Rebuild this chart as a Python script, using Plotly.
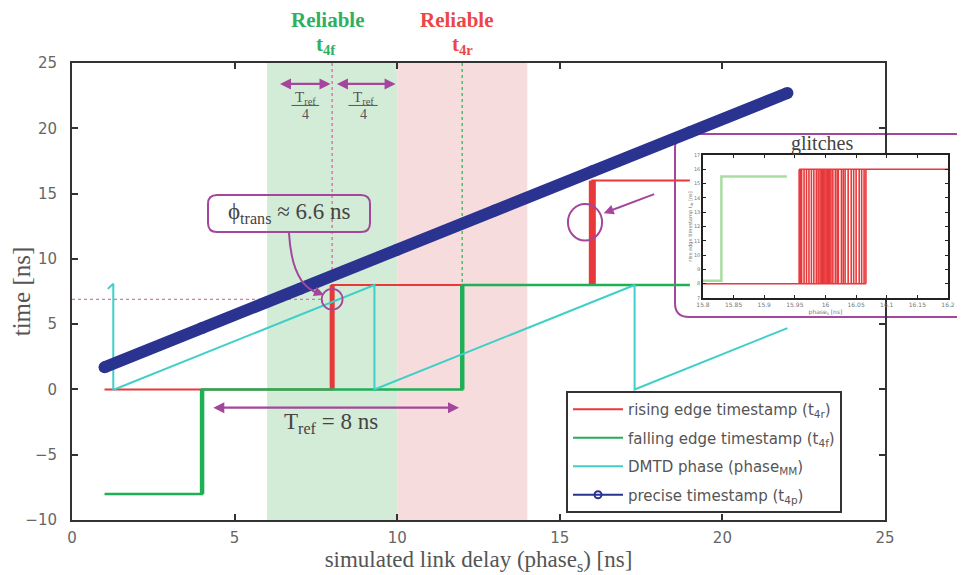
import plotly.graph_objects as go

# ---------------- data ----------------
rising_x = [1, 8, 8, 16, 16, 19.0]
rising_y = [0, 0, 8, 8, 16, 16]
rising_edges_x = [8, 16]
rising_edges_lo = [0, 8]
rising_edges_hi = [8, 16]

falling_x = [1, 4, 4, 12, 12, 19.0]
falling_y = [-8, -8, 0, 0, 8, 8]
falling_edges_x = [4, 12]
falling_edges_lo = [-8, 0]
falling_edges_hi = [0, 8]

dmtd_x = [1.1, 1.27, 1.27, 1.3, 9.3, 9.3, 17.3, 17.3, 22]
dmtd_y = [7.7, 8.1, 0, 0, 8, 0, 8, 0, 4.7]

precise_x = [1, 4, 7, 10, 13, 16, 19, 22]
precise_y = [1.7, 4.7, 7.7, 10.7, 13.7, 16.7, 19.7, 22.7]

# inset (glitches) data
inset_green_x = [15.8, 15.83, 15.83, 15.937]
inset_green_y = [8.2, 8.2, 15.5, 15.5]
inset_red_low_x = [15.8, 16.066]
inset_red_low_y = [8, 8]
inset_red_high_x = [15.957, 16.2]
inset_red_high_y = [16, 16]
glitch_x = [15.957, 15.959, 15.961, 15.965, 15.969, 15.973, 15.977, 15.981, 15.985,
            15.988, 15.991, 15.993, 15.995, 15.997, 15.999, 16.001, 16.003, 16.005,
            16.007, 16.009, 16.012, 16.016, 16.019, 16.021, 16.026, 16.029, 16.032,
            16.037, 16.042, 16.046, 16.050, 16.055, 16.059, 16.063, 16.066]

x_ticks = [0, 5, 10, 15, 20, 25]
y_ticks = [-10, -5, 0, 5, 10, 15, 20, 25]
inset_x_ticks = [15.8, 15.85, 15.9, 15.95, 16, 16.05, 16.1, 16.15, 16.2]
inset_y_ticks = [7, 8, 9, 10, 11, 12, 13, 14, 15, 16, 17]

reliable_f = [6, 10]
reliable_r = [10, 14]
phi_trans = 6.9

# ---------------- style ----------------
OFF = 8                      # page body margin of the browser
W, H = 965 - OFF, 575 - OFF
RED = "#e8383a"
GREEN = "#1fb055"
CYAN = "#3ecfc8"
BLUE = "#2b3390"
PURPLE = "#a4479c"
PINK = "#d77aa8"
GREY = "#555555"
SERIF = "Liberation Serif"
SANS = "DejaVu Sans"

def px(xp):
    return (xp - OFF) / W

def py(yp):
    return 1 - (yp - OFF) / H

fig = go.Figure()

# main traces
fig.add_trace(go.Scatter(x=rising_x, y=rising_y, mode="lines",
                         line=dict(color=RED, width=2), showlegend=False, hoverinfo="skip"))
ex, ey = [], []
for xe, lo, hi in zip(rising_edges_x, rising_edges_lo, rising_edges_hi):
    ex += [xe, xe, None]; ey += [lo, hi, None]
fig.add_trace(go.Scatter(x=ex[:3], y=ey[:3], mode="lines",
                         line=dict(color=RED, width=5), showlegend=False, hoverinfo="skip"))
fig.add_trace(go.Scatter(x=ex[3:], y=ey[3:], mode="lines",
                         line=dict(color=RED, width=7), showlegend=False, hoverinfo="skip"))

fig.add_trace(go.Scatter(x=falling_x, y=falling_y, mode="lines",
                         line=dict(color=GREEN, width=2.5), showlegend=False, hoverinfo="skip"))
fx, fy = [], []
for xe, lo, hi in zip(falling_edges_x, falling_edges_lo, falling_edges_hi):
    fx += [xe, xe, None]; fy += [lo, hi, None]
fig.add_trace(go.Scatter(x=fx, y=fy, mode="lines",
                         line=dict(color=GREEN, width=4.5), showlegend=False, hoverinfo="skip"))

fig.add_trace(go.Scatter(x=dmtd_x, y=dmtd_y, mode="lines",
                         line=dict(color=CYAN, width=2), showlegend=False, hoverinfo="skip"))

fig.add_trace(go.Scatter(x=precise_x, y=precise_y, mode="lines+markers",
                         line=dict(color=BLUE, width=12),
                         marker=dict(color=BLUE, size=12),
                         showlegend=False, hoverinfo="skip"))

# legend-only traces
leg = [
    ("rising edge timestamp (t<sub>4r</sub>)", RED, None),
    ("falling edge timestamp (t<sub>4f</sub>)", GREEN, None),
    ("DMTD phase (phase<sub>MM</sub>)", CYAN, None),
    ("precise timestamp (t<sub>4p</sub>)", BLUE, "circle-open"),
]
for i, (name, col, sym) in enumerate(leg):
    fig.add_trace(go.Scatter(
        x=[None], y=[None], name=name, legendgroup=f"g{i}",
        mode="lines+markers" if sym else "lines",
        line=dict(color=col, width=2),
        marker=dict(symbol=sym or "circle", size=7, color=col, line=dict(width=2, color=col)),
    ))

# inset traces
fig.add_trace(go.Scatter(x=inset_green_x, y=inset_green_y, mode="lines", xaxis="x2", yaxis="y2",
                         line=dict(color="#a9dca0", width=2.5), showlegend=False, hoverinfo="skip"))
fig.add_trace(go.Scatter(x=inset_red_low_x, y=inset_red_low_y, mode="lines", xaxis="x2", yaxis="y2",
                         line=dict(color=RED, width=1.5), showlegend=False, hoverinfo="skip"))
fig.add_trace(go.Scatter(x=inset_red_high_x, y=inset_red_high_y, mode="lines", xaxis="x2", yaxis="y2",
                         line=dict(color=RED, width=1.5), showlegend=False, hoverinfo="skip"))
gx, gy = [], []
for g in glitch_x:
    gx += [g, g, None]; gy += [8, 16, None]
fig.add_trace(go.Scatter(x=gx, y=gy, mode="lines", xaxis="x2", yaxis="y2",
                         line=dict(color=RED, width=1.6), showlegend=False, hoverinfo="skip"))

shapes = []
# shaded regions
shapes.append(dict(type="rect", xref="x", yref="y", x0=reliable_f[0], x1=reliable_f[1], y0=-10, y1=25,
                   fillcolor="#d3ecd7", line=dict(width=0), layer="below"))
shapes.append(dict(type="rect", xref="x", yref="y", x0=reliable_r[0], x1=reliable_r[1], y0=-10, y1=25,
                   fillcolor="#f6dcdc", line=dict(width=0), layer="below"))
# dotted guides
shapes.append(dict(type="line", xref="x", yref="y", x0=8, x1=8, y0=25, y1=8,
                   line=dict(color=PINK, width=1.5, dash="dot"), layer="below"))
shapes.append(dict(type="line", xref="x", yref="y", x0=12, x1=12, y0=25, y1=8,
                   line=dict(color="#4cbf6c", width=1.5, dash="dot"), layer="below"))
shapes.append(dict(type="line", xref="x", yref="y", x0=0, x1=7.7, y0=phi_trans, y1=phi_trans,
                   line=dict(color=PINK, width=1.2, dash="dot"), layer="below"))
# circle at phi_trans
shapes.append(dict(type="circle", xref="x", yref="y", x0=8 - 0.32, x1=8 + 0.32,
                   y0=phi_trans - 0.8, y1=phi_trans + 0.8, line=dict(color=PURPLE, width=1.8)))
# glitch circle
shapes.append(dict(type="circle", xref="x", yref="y", x0=15.25, x1=16.3, y0=11.4, y1=14.2,
                   line=dict(color=PURPLE, width=2)))
# Tref/4 fraction bars
shapes.append(dict(type="line", xref="x", yref="y", x0=6.75, x1=7.6, y0=21.75, y1=21.75,
                   line=dict(color=GREY, width=1)))
shapes.append(dict(type="line", xref="x", yref="y", x0=8.5, x1=9.4, y0=21.75, y1=21.75,
                   line=dict(color=GREY, width=1)))

def rounded(x0, y0, x1, y1, r):
    # pixel coords -> paper path with rounded corners
    X = lambda v: px(v)
    Y = lambda v: py(v)
    return (f"M {X(x0+r)},{Y(y0)} L {X(x1-r)},{Y(y0)} Q {X(x1)},{Y(y0)} {X(x1)},{Y(y0+r)} "
            f"L {X(x1)},{Y(y1-r)} Q {X(x1)},{Y(y1)} {X(x1-r)},{Y(y1)} "
            f"L {X(x0+r)},{Y(y1)} Q {X(x0)},{Y(y1)} {X(x0)},{Y(y1-r)} "
            f"L {X(x0)},{Y(y0+r)} Q {X(x0)},{Y(y0)} {X(x0+r)},{Y(y0)} Z")

# phi box
shapes.append(dict(type="path", xref="paper", yref="paper", path=rounded(208, 195, 370, 232, 9),
                   line=dict(color=PURPLE, width=2), fillcolor="rgba(255,255,255,0)"))
# curved arrow from phi box to circle
shapes.append(dict(type="path", xref="paper", yref="paper",
                   path=f"M {px(289)},{py(233)} Q {px(292)},{py(285)} {px(318)},{py(293)}",
                   line=dict(color=PURPLE, width=2)))
# inset box
shapes.append(dict(type="path", xref="paper", yref="paper", path=rounded(675, 134, 985, 317, 14),
                   line=dict(color=PURPLE, width=2), fillcolor="white", layer="below"))

annotations = []
C = dict(xanchor="center", yanchor="middle")
# titles above
for txt, xp, yp, col in [("Reliable", 328, 20, "#2fb060"), ("t<sub>4f</sub>", 326, 45, "#2fb060"),
                         ("Reliable", 457, 20, "#e84848"), ("t<sub>4r</sub>", 462, 45, "#e84848")]:
    annotations.append(dict(xref="paper", yref="paper", x=px(xp), y=py(yp), text=f"<b>{txt}</b>",
                            showarrow=False, font=dict(family=SERIF, size=21, color=col), **C))
# Tref/4 arrows
for a, b in [(6.35, 7.95), (8.1, 9.95)]:
    annotations.append(dict(xref="x", yref="y", axref="x", ayref="y", x=b, y=23.4, ax=a, ay=23.4,
                            text="", showarrow=True, arrowhead=2, arrowside="end+start",
                            arrowsize=1, arrowwidth=2.2, arrowcolor=PURPLE))
for xc in [7.17, 8.95]:
    annotations.append(dict(xref="x", yref="y", x=xc, y=22.35, text="T<sub>ref</sub>", showarrow=False,
                            font=dict(family=SERIF, size=15, color=GREY), **C))
    annotations.append(dict(xref="x", yref="y", x=xc, y=21.05, text="4", showarrow=False,
                            font=dict(family=SERIF, size=14, color=GREY), **C))
# phi label
annotations.append(dict(xref="paper", yref="paper", x=px(289), y=py(213),
                        text="ϕ<sub>trans</sub> ≈ 6.6 ns", showarrow=False,
                        font=dict(family=SERIF, size=23, color="#444444"), **C))
# arrowhead at the end of curved arrow
annotations.append(dict(xref="paper", yref="paper", axref="pixel", ayref="pixel",
                        x=px(324), y=py(295), ax=-10, ay=-4, text="", showarrow=True,
                        arrowhead=2, arrowsize=1, arrowwidth=2, arrowcolor=PURPLE))
# Tref = 8 ns arrow
annotations.append(dict(xref="x", yref="y", axref="x", ayref="y", x=11.9, y=-1.4, ax=4.3, ay=-1.4,
                        text="", showarrow=True, arrowhead=2, arrowside="end+start",
                        arrowsize=1, arrowwidth=2.2, arrowcolor=PURPLE))
annotations.append(dict(xref="x", yref="y", x=7.95, y=-2.6, text="T<sub>ref</sub> = 8 ns",
                        showarrow=False, font=dict(family=SERIF, size=23, color="#444444"), **C))
# glitch arrow
annotations.append(dict(xref="x", yref="y", axref="x", ayref="y", x=16.35, y=13.5, ax=17.95, ay=15.0,
                        text="", showarrow=True, arrowhead=2, arrowsize=1, arrowwidth=2,
                        arrowcolor=PURPLE))
annotations.append(dict(xref="paper", yref="paper", x=px(822), y=py(143), text="glitches",
                        showarrow=False, font=dict(family=SERIF, size=20, color="#444444"), **C))

axis_common = dict(showgrid=False, zeroline=False, showline=True, linecolor="#333333", linewidth=2,
                   mirror="ticks", ticks="inside", ticklen=6, tickwidth=2, tickcolor="#333333",
                   automargin=False)
inset_common = dict(showgrid=False, zeroline=False, showline=True, linecolor="#222",
                    linewidth=1.5, mirror="ticks", ticks="inside", ticklen=3, tickcolor="#222",
                    automargin=False)

fig.update_layout(
    width=W, height=H,
    margin=dict(l=0, r=0, t=0, b=0, autoexpand=False),
    paper_bgcolor="white", plot_bgcolor="white",
    shapes=shapes, annotations=annotations,
    xaxis=dict(domain=[px(72), px(885)], range=[0, 25], tickvals=x_ticks,
               tickfont=dict(family=SANS, size=15, color="#666666"), ticklabelstandoff=3,
               title=dict(text="simulated link delay (phase<sub>s</sub>) [ns]", standoff=9,
                          font=dict(family=SERIF, size=23, color=GREY)),
               **axis_common),
    yaxis=dict(domain=[py(520), py(63)], range=[-10, 25], tickvals=y_ticks,
               tickfont=dict(family=SANS, size=15, color="#666666"), ticklabelstandoff=10,
               title=dict(text="time [ns]", standoff=3, font=dict(family=SERIF, size=25, color=GREY)),
               **axis_common),
    xaxis2=dict(domain=[px(703), px(948)], range=[15.8, 16.2], tickvals=inset_x_ticks,
                anchor="y2", tickfont=dict(family=SANS, size=6, color="#777"),
                title=dict(text="phase<sub>s</sub> [ns]", standoff=0,
                           font=dict(family=SANS, size=6, color="#777")),
                **inset_common),
    yaxis2=dict(domain=[py(298), py(155)], range=[7, 17], tickvals=inset_y_ticks,
                anchor="x2", tickfont=dict(family=SANS, size=5, color="#777"),
                title=dict(text="rise edge timestamp t<sub>4r</sub> [ns]", standoff=0,
                           font=dict(family=SANS, size=5, color="#777")),
                **inset_common),
    legend=dict(x=px(566), y=py(391), xanchor="left", yanchor="top",
                bgcolor="white", bordercolor="#333333", borderwidth=2,
                font=dict(family=SANS, size=15, color=GREY),
                traceorder="grouped", tracegroupgap=6, itemwidth=50),
)

fig.write_html("out.html")
